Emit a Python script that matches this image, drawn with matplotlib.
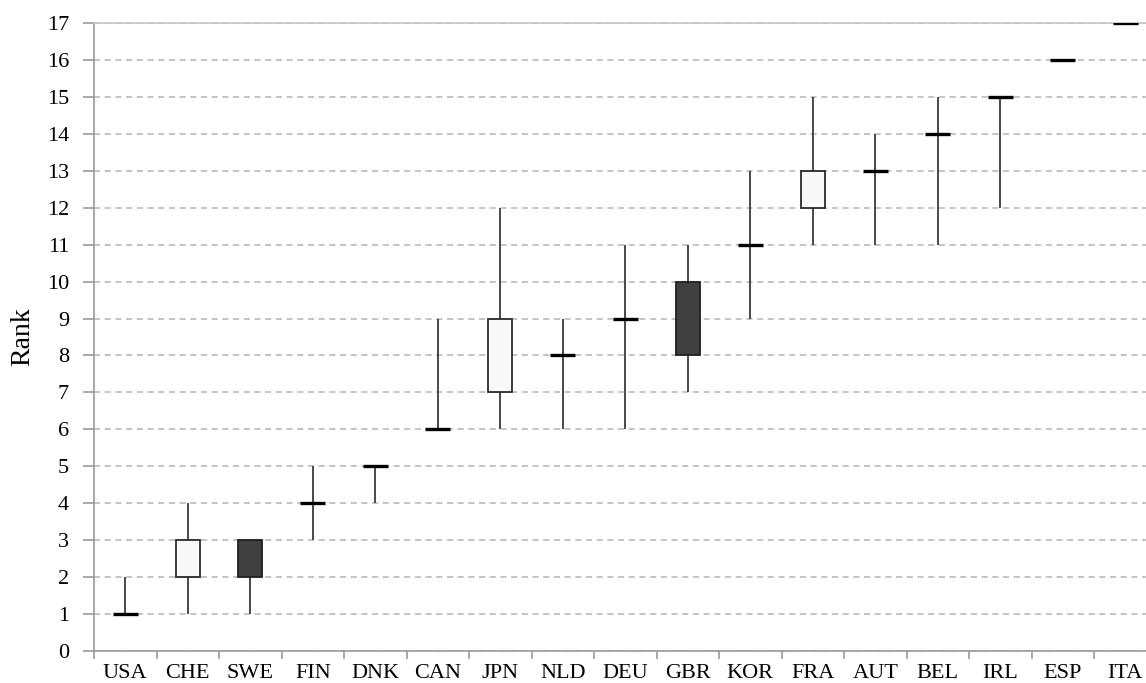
import numpy as np
import matplotlib.pyplot as plt

plt.rcParams['font.family'] = ['Liberation Serif', 'DejaVu Serif']

countries = ['USA', 'CHE', 'SWE', 'FIN', 'DNK', 'CAN', 'JPN', 'NLD', 'DEU',
             'GBR', 'KOR', 'FRA', 'AUT', 'BEL', 'IRL', 'ESP', 'ITA']
low = [1, 1, 1, 3, 4, 6, 6, 6, 6, 7, 9, 11, 11, 11, 12, 16, 17]
high = [2, 4, 3, 5, 5, 9, 12, 9, 11, 11, 13, 15, 14, 15, 15, 16, 17]
openv = [1, 2, 3, 4, 5, 6, 7, 8, 9, 10, 11, 12, 13, 14, 15, 16, 17]
closev = [1, 3, 2, 4, 5, 6, 9, 8, 9, 8, 11, 13, 13, 14, 15, 16, 17]

grid_col = '#b4b4b4'
axis_col = '#9a9a9a'

fig = plt.figure(figsize=(11.46, 6.83), dpi=100)
ax = fig.add_axes([94 / 1146, 32 / 683, 1062.5 / 1146, 628 / 683])

x = np.arange(len(countries))
openv = np.array(openv)
closev = np.array(closev)

# high-low lines
ax.vlines(x, low, high, color='#3a3a3a', linewidth=1.3, zorder=2)

# up / down boxes
body = closev != openv
up = body & (closev > openv)
down = body & (closev < openv)
bottoms = np.minimum(openv, closev)
heights = np.abs(closev - openv)
ax.bar(x[up], heights[up], bottom=bottoms[up], width=0.38,
       color='#f8f8f8', edgecolor='#2a2a2a', linewidth=1.3, zorder=3)
ax.bar(x[down], heights[down], bottom=bottoms[down], width=0.38,
       color='#404040', edgecolor='#202020', linewidth=1.3, zorder=3)

# flat marks where open == close
flat = ~body
ax.hlines(openv[flat], x[flat] - 0.2, x[flat] + 0.2, color='black',
          linewidth=2.4, zorder=4)

ax.set_xlim(-0.5, len(countries) - 0.5)
ax.set_ylim(0, 17)
ax.set_yticks(range(0, 18))
ax.set_xticks(x)
ax.set_xticklabels(countries)
ax.set_xticks(np.arange(-0.5, len(countries), 1), minor=True)
ax.tick_params(axis='x', which='major', length=0, pad=9, labelsize=16)
ax.tick_params(axis='x', which='minor', length=6, color=axis_col, width=1.2)
ax.tick_params(axis='y', length=8, color=axis_col, width=1.2, labelsize=16, pad=10)

ax.yaxis.grid(True, linestyle=(0, (4, 3)), color=grid_col, linewidth=1.1)
ax.set_axisbelow(True)

ax.spines['right'].set_visible(False)
ax.spines['left'].set_color(axis_col)
ax.spines['bottom'].set_color(axis_col)
ax.spines['left'].set_linewidth(1.2)
ax.spines['bottom'].set_linewidth(1.2)
ax.spines['top'].set_color('#c4c4c4')
ax.spines['top'].set_linewidth(1.2)

ax.set_ylabel('Rank', fontsize=20, labelpad=8)

fig.savefig('out.png', dpi=100)
